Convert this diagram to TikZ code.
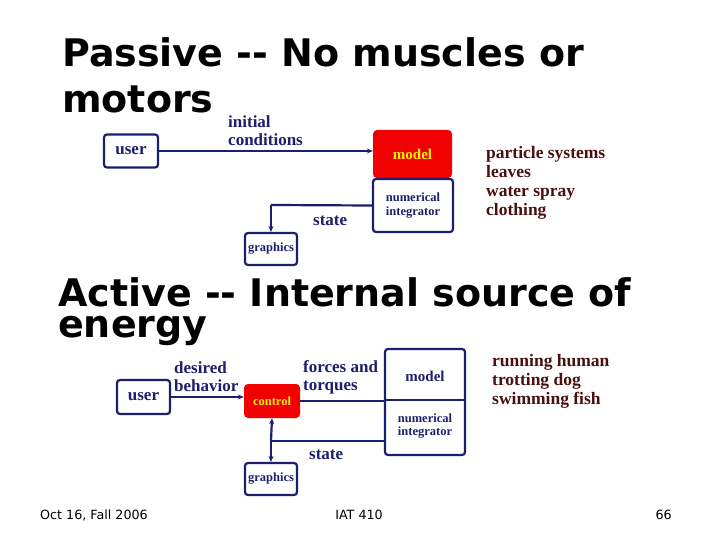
\documentclass[tikz,border=0pt]{standalone}
\usepackage{fontspec}
\setmainfont{Liberation Serif}
\newfontfamily\titlefont{DejaVu Sans}
\usetikzlibrary{arrows.meta}
\definecolor{navy}{HTML}{1E1E6E}
\definecolor{dred}{HTML}{4A1010}
\definecolor{rbox}{HTML}{F00000}
\begin{document}
\begin{tikzpicture}[x=1pt,y=-1pt,
  bx/.style={draw=navy,line width=2.2pt,rounded corners=3pt,inner sep=0pt,font=\bfseries\color{navy}},
  red/.style={fill=rbox,rounded corners=4pt,inner sep=0pt,font=\bfseries\color{yellow}},
  ln/.style={draw=navy,line width=2.2pt},
  arr/.style={ln,-{Stealth[length=6pt,width=5pt]}},
  lab/.style={font=\bfseries\color{navy}\fontsize{17}{18}\selectfont,align=left,anchor=west,inner sep=0pt},
  ex/.style={font=\bfseries\color{dred}\fontsize{17.5}{19}\selectfont,align=left,anchor=north west,inner sep=0pt},
  ttl/.style={font=\titlefont\bfseries\fontsize{38}{38}\selectfont,anchor=west,inner sep=0pt},
  ft/.style={font=\titlefont\fontsize{12.7}{13}\selectfont,inner sep=0pt}]
\useasboundingbox[fill=white] (0,0) rectangle (720,540);
% titles
\node[ttl] (t1) at (62,52) {Passive -- No muscles or};
\node[ttl] (t1b) at (62,99) {motors};
\node[ttl] (t2) at (58,292) {Active -- Internal source of};
\node[ttl] (t2b) at (58,331) {energy};
% top diagram
\node[bx,minimum width=54pt,minimum height=33pt,font=\bfseries\color{navy}\fontsize{17}{17}\selectfont] (u1) at (131,151) {user};
\node[red,minimum width=79pt,minimum height=48pt,font=\bfseries\color{yellow}\fontsize{15}{15}\selectfont] (m1) at (412.5,154) {model};
\node[bx,minimum width=80pt,minimum height=53pt,align=center,font=\bfseries\color{navy}\fontsize{12.5}{13.5}\selectfont] (n1) at (413,205.5) {numerical\\integrator};
\node[bx,minimum width=52pt,minimum height=32pt,font=\bfseries\color{navy}\fontsize{12.5}{12.5}\selectfont] (g1) at (271,249) {graphics};
\draw[arr] (u1.east) -- (u1.east -| m1.west);
\coordinate (c1) at (271,205);
\draw[ln] (n1.west) -- (c1);
\draw[arr] (c1) -- (g1.north);
\node[lab] (ic) at (228,131) {initial\\conditions};
\node[lab] (s1) at (313,221) {state};
\node[ex] (e1) at (486,146) {particle systems\\leaves\\water spray\\clothing};
% bottom diagram
\node[bx,minimum width=53pt,minimum height=34pt,font=\bfseries\color{navy}\fontsize{17}{17}\selectfont] (u2) at (143.5,397) {user};
\node[red,minimum width=56pt,minimum height=34pt,font=\bfseries\color{yellow}\fontsize{12.5}{12.5}\selectfont] (c2) at (272,401) {control};
\node[bx,minimum width=80pt,minimum height=106pt] (mi) at (425,402) {};
\draw[ln] (mi.west |- 0,400) -- (mi.east |- 0,400);
\node[font=\bfseries\color{navy}\fontsize{15}{15}\selectfont] (m2) at (425,376) {model};
\node[align=center,font=\bfseries\color{navy}\fontsize{12.5}{13.5}\selectfont] (n2) at (425,426) {numerical\\integrator};
\node[bx,minimum width=52pt,minimum height=32pt,font=\bfseries\color{navy}\fontsize{12.5}{12.5}\selectfont] (g2) at (271,479) {graphics};
\draw[arr] (u2.east) -- (u2.east -| c2.west);
\draw[ln] (c2.east) -- (c2.east -| mi.west);
\coordinate (c3) at (271,441);
\draw[ln] (mi.west |- c3) -- (c3);
\draw[arr] (c3) -- (g2.north);
\draw[arr] (c3) -- (c2.south);
\node[lab] (db) at (174,377) {desired\\behavior};
\node[lab] (ft) at (303,377) {forces and\\torques};
\node[lab] (s2) at (309,455) {state};
\node[ex] (e2) at (492,354) {running human\\trotting dog\\swimming fish};
% footer
\node[ft,anchor=west] (f1) at (40,515) {Oct 16, Fall 2006};
\node[ft] (f2) at (359,515) {IAT 410};
\node[ft,anchor=east] (f3) at (672,515) {66};
\end{tikzpicture}
\end{document}
